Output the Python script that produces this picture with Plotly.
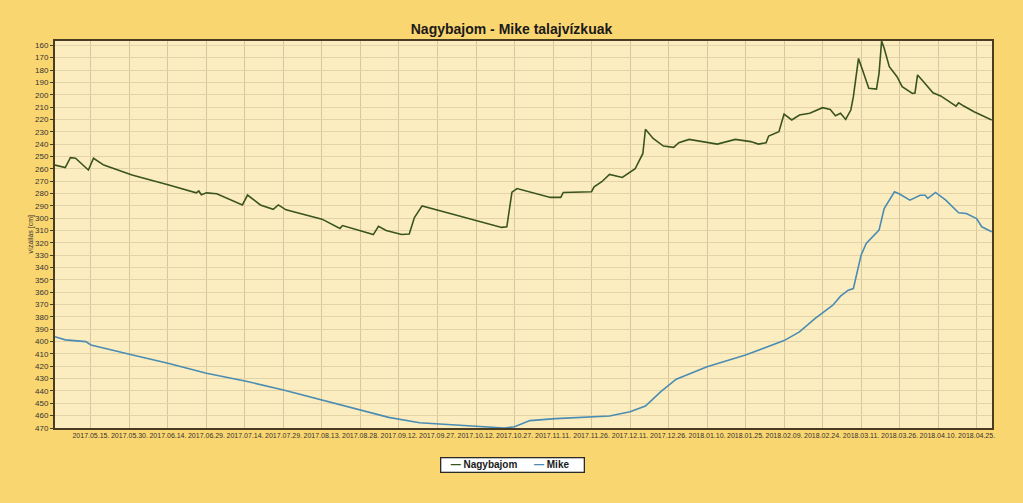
import plotly.graph_objects as go

# Nagybajom (dark green) – date, water level [cm below surface]
nagy_dates = [
    "2017-05-01", "2017-05-05", "2017-05-07", "2017-05-09", "2017-05-14", "2017-05-16",
    "2017-05-20", "2017-05-31", "2017-06-14", "2017-06-25", "2017-06-26", "2017-06-27",
    "2017-06-29", "2017-07-03", "2017-07-13", "2017-07-15", "2017-07-20", "2017-07-25",
    "2017-07-27", "2017-07-30", "2017-08-13", "2017-08-20", "2017-08-21", "2017-09-02",
    "2017-09-04", "2017-09-07", "2017-09-13", "2017-09-16", "2017-09-18", "2017-09-21",
    "2017-10-03", "2017-10-22", "2017-10-24", "2017-10-26", "2017-10-28", "2017-11-02",
    "2017-11-10", "2017-11-14", "2017-11-15", "2017-11-26", "2017-11-27", "2017-11-30",
    "2017-12-03", "2017-12-08", "2017-12-12", "2017-12-13", "2017-12-16", "2017-12-17",
    "2017-12-20", "2017-12-24", "2017-12-28", "2017-12-30", "2018-01-03", "2018-01-09",
    "2018-01-14", "2018-01-21", "2018-01-27", "2018-01-30", "2018-02-02", "2018-02-03",
    "2018-02-07", "2018-02-09", "2018-02-12", "2018-02-15", "2018-02-19", "2018-02-24",
    "2018-02-27", "2018-03-01", "2018-03-03", "2018-03-05", "2018-03-07", "2018-03-08",
    "2018-03-10", "2018-03-12", "2018-03-14", "2018-03-17", "2018-03-18", "2018-03-19",
    "2018-03-20", "2018-03-22", "2018-03-25", "2018-03-27", "2018-03-31", "2018-04-01",
    "2018-04-02", "2018-04-04", "2018-04-08", "2018-04-11", "2018-04-15", "2018-04-17",
    "2018-04-18", "2018-04-20", "2018-04-24", "2018-04-30 22:00",
]
nagy_values = [
    257, 259, 251, 251.5, 261, 251.5,
    257, 265, 273, 279.5, 278, 281,
    279.5, 280.3, 289.3, 281.3, 289.3, 292.8,
    289.3, 293.3, 300.8, 308.3, 306, 313.3,
    306.7, 310, 313.3, 312.8, 299.5, 290.1,
    296.8, 307.5, 307, 279, 276, 278.6,
    283.2, 283.2, 279.2, 278.6, 274.6, 270.5,
    264.6, 267, 261, 260, 247.6, 228,
    235.4, 241.6, 242.7, 238.9, 236.2, 238.6,
    240, 236.2, 238, 240, 238.9, 233.5,
    230, 215.7, 220.5, 216.5, 215.1, 210.5,
    211.9, 217, 215, 220, 212.4, 201.6,
    170.6, 182.7, 194.8, 195.4, 182.7, 156.5,
    162.4, 177.3, 185.4, 193.5, 198.9, 198.6,
    184, 188.7, 198.4, 201, 206.5, 209.2,
    206.5, 209.2, 213.8, 220.5,
]

# Mike (blue)
mike_dates = [
    "2017-05-01", "2017-05-05", "2017-05-13", "2017-05-15", "2017-05-30", "2017-06-14",
    "2017-06-29", "2017-07-14", "2017-07-29", "2017-08-13", "2017-08-28", "2017-09-08",
    "2017-09-20", "2017-10-03", "2017-10-13", "2017-10-23", "2017-10-27", "2017-11-02",
    "2017-11-12", "2017-11-22", "2017-12-03", "2017-12-11", "2017-12-17", "2017-12-23",
    "2017-12-29", "2018-01-10", "2018-01-25", "2018-02-09", "2018-02-15", "2018-02-21",
    "2018-02-28", "2018-03-03", "2018-03-06", "2018-03-08", "2018-03-09", "2018-03-11",
    "2018-03-13", "2018-03-18", "2018-03-20", "2018-03-24", "2018-03-26", "2018-03-30",
    "2018-04-03", "2018-04-05", "2018-04-06", "2018-04-09", "2018-04-13", "2018-04-15",
    "2018-04-18", "2018-04-21", "2018-04-25", "2018-04-27", "2018-04-30 22:00",
]
mike_values = [
    396, 398.6, 400, 402.7, 410.3, 417.6,
    425.7, 431.9, 439.2, 447.3, 455.4, 461.4,
    465.7, 467.6, 469, 470, 469, 464,
    462.4, 461.6, 460.3, 456.8, 452.2, 440.5,
    430.5, 420.3, 410.8, 399.2, 392.2, 381.4,
    370.5, 363.2, 358.4, 357, 347.6, 330,
    320.5, 309.7, 292.2, 278.6, 280.5, 285.4,
    281.4, 281.4, 284, 279.2, 285.4, 289.5,
    295.7, 296.2, 300.3, 307, 311,
]

series_names = ["Nagybajom", "Mike"]
series_colors = ["#3A5420", "#4A8CB2"]
title_text = "Nagybajom - Mike talajvízkuak"
y_title = "vízállás [cm]"

FONT = "Liberation Sans, Arial, sans-serif"
NARROW = "Liberation Sans Narrow, Liberation Sans, Arial, sans-serif"

fig = go.Figure()
for xs, ys, nm, col in [(nagy_dates, nagy_values, series_names[0], series_colors[0]),
                        (mike_dates, mike_values, series_names[1], series_colors[1])]:
    fig.add_trace(go.Scatter(x=xs, y=ys, mode="lines", name=nm,
                             line=dict(color=col, width=1.6)))

# compact legend (real text) built from the series names/colours
legend_html = "&nbsp;&nbsp;&nbsp;&nbsp;&nbsp;&nbsp;".join(
    f"<span style='color:{c}'><b>\u2014</b></span>&nbsp;<b>{n}</b>"
    for n, c in zip(series_names, series_colors)
)

fig.update_layout(
    width=1023, height=503,
    margin=dict(l=55, r=31, t=41, b=75),
    paper_bgcolor="#FAD670",
    plot_bgcolor="#FCEDC0",
    title=dict(text="<b>" + title_text + "</b>", x=0.5, xanchor="center",
               y=1 - 29 / 503, yanchor="middle",
               font=dict(family=FONT, size=14, color="#1a1a1a")),
    showlegend=False,
    font=dict(family=FONT),
    annotations=[
        dict(text=y_title, xref="paper", yref="paper",
             x=(30 - 55) / 937, y=0.5, xanchor="center", yanchor="middle",
             textangle=-90, showarrow=False,
             font=dict(family=NARROW, size=7, color="#333333")),
        dict(text="&nbsp;&nbsp;&nbsp;" + legend_html + "&nbsp;&nbsp;&nbsp;&nbsp;&nbsp;",
             xref="paper", yref="paper",
             x=(512 - 55) / 937, y=(428 - 465) / 387,
             xanchor="center", yanchor="middle", showarrow=False,
             bgcolor="#FFFFFF", bordercolor="#2a2a2a", borderwidth=1.3, borderpad=1,
             font=dict(family=FONT, size=10, color="#1a1a1a")),
    ],
)

fig.update_xaxes(
    type="date",
    range=["2017-05-01", "2018-05-01"],
    tick0="2017-05-15", dtick=15 * 86400000,
    tickformat="%Y.%m.%d.",
    tickangle=0,
    tickfont=dict(family=NARROW, size=7, color="#333333"),
    showgrid=True, gridcolor="#D8C79C", gridwidth=1,
    showline=True, linecolor="#4A3C20", linewidth=2, mirror=True,
    ticks="", zeroline=False,
)
fig.update_yaxes(
    range=[470, 156.5],
    tick0=160, dtick=10,
    tickfont=dict(family=NARROW, size=8, color="#333333"),
    showgrid=True, gridcolor="#E4D3A6", gridwidth=1,
    showline=True, linecolor="#4A3C20", linewidth=2, mirror=True,
    ticks="outside", ticklen=3, tickcolor="#4A3C20",
    zeroline=False,
)

fig.write_html("out.html")
